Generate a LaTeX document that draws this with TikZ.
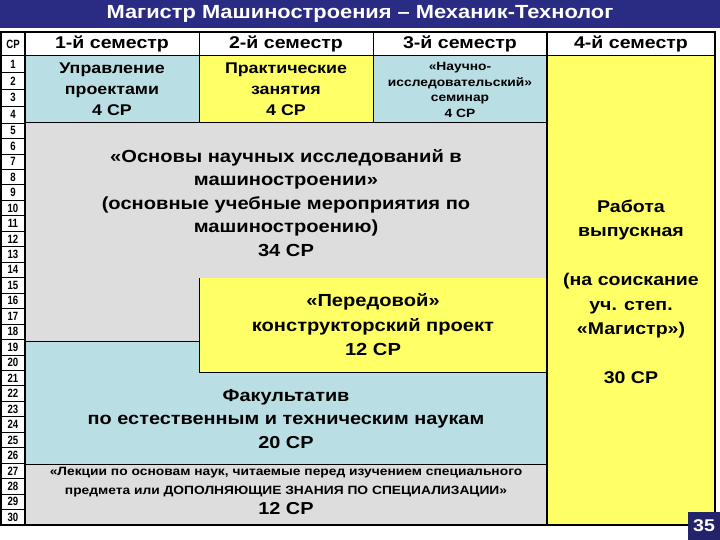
\documentclass[tikz,border=0pt]{standalone}
\usepackage{fontspec}
\setmainfont[FakeStretch=1.15]{Liberation Sans}
\newfontfamily\numfont[FakeStretch=0.8]{Liberation Sans}
\definecolor{titleblue}{RGB}{42,44,132}
\definecolor{paleblue}{RGB}{185,223,228}
\definecolor{palegrey}{RGB}{221,221,221}
\definecolor{paleyellow}{RGB}{255,255,102}

\begin{document}
\begin{tikzpicture}[x=1pt, y=-1pt,
    semhead/.style={font=\fontsize{17}{20}\selectfont\bfseries},
    blocktxt/.style={align=center, font=\fontsize{17.3}{23.5}\selectfont\bfseries},
    smalltxt/.style={align=center, font=\fontsize{12}{15.5}\selectfont\bfseries},
    rownum/.style={font=\numfont\fontsize{12}{13}\selectfont\bfseries, inner sep=0pt}]
    \useasboundingbox (0,0) rectangle (720,540);

    % title bar
    \fill[titleblue] (0,0) rectangle (720,28);
    \node[text=white, font=\fontsize{19}{21}\selectfont\bfseries] (title) at (360,14)
        {Магистр Машиностроения – Механик-Технолог};

    % coloured blocks
    \fill[white] (1,32) rectangle (715,56);
    \fill[paleblue] (25,56) rectangle (199,123);
    \fill[paleyellow] (199,56) rectangle (373,123);
    \fill[paleblue] (373,56) rectangle (547,123);
    \fill[paleyellow] (547,56) rectangle (715,525);
    \fill[palegrey] (25,123) rectangle (547,341);
    \fill[paleblue] (25,341) rectangle (547,464);
    \fill[paleyellow] (199,278) rectangle (547,372);
    \fill[palegrey] (25,464) rectangle (547,525);

    % grid lines
    \draw[line width=1.2pt] (25,32) -- (25,525);
    \draw[line width=1.2pt] (547,32) -- (547,525);
    \draw[line width=1pt] (199,32) -- (199,123) (373,32) -- (373,123);
    \draw[line width=1pt] (1,56) -- (715,56);
    \draw[line width=1pt] (25,123) -- (547,123);
    \draw[line width=1pt] (25,341) -- (199,341);
    \draw[line width=1pt] (199,278) -- (199,372) -- (547,372);
    \draw[line width=1pt] (25,464) -- (547,464);

    % row numbers
    \foreach \i in {1,...,4} {
        \node[rownum] (r\i) at (13,{56+(\i-0.5)*16.75}) {\i};
        \draw[line width=0.8pt] (1,{56+\i*16.75}) -- (25,{56+\i*16.75});
    }
    \foreach \i in {5,...,30} {
        \node[rownum] (r\i) at (13,{123+(\i-4.5)*15.46}) {\i};
        \draw[line width=0.8pt] (1,{123+(\i-4)*15.46}) -- (25,{123+(\i-4)*15.46});
    }

    % outer frame
    \draw[line width=1.5pt] (1,32) rectangle (715,525);
    \draw[line width=2.5pt] (0,525) -- (716,525);

    % header row
    \node[font=\numfont\fontsize{12}{13}\selectfont\bfseries] (cp) at (13,44) {СР};
    \node[semhead] (sem1) at (112,44) {1-й семестр};
    \node[semhead] (sem2) at (286,44) {2-й семестр};
    \node[semhead] (sem3) at (460,44) {3-й семестр};
    \node[semhead] (sem4) at (631,44) {4-й семестр};

    % block texts
    \node[blocktxt, font=\fontsize{15.5}{21}\selectfont\bfseries] (upr) at (112,89)
        {Управление\\проектами\\4 СР};
    \node[blocktxt, font=\fontsize{15.5}{21}\selectfont\bfseries] (prak) at (286,89)
        {Практические\\занятия\\4 СР};
    \node[smalltxt] (nir) at (460,90)
        {«Научно-\\исследовательский»\\семинар\\4 СР};
    \node[blocktxt, font=\fontsize{17.5}{23.5}\selectfont\bfseries] (osn) at (286,203)
        {«Основы научных исследований в\\машиностроении»\\(основные учебные мероприятия по\\машиностроению)\\34 СР};
    \node[blocktxt, font=\fontsize{17.5}{24.5}\selectfont\bfseries] (proekt) at (373,325)
        {«Передовой»\\конструкторский проект\\12 СР};
    \node[blocktxt] (fak) at (286,419)
        {Факультатив\\по естественным и техническим наукам\\20 СР};
    \node[smalltxt, font=\fontsize{12}{19}\selectfont\bfseries] (lek) at (286,482)
        {«Лекции по основам наук, читаемые перед изучением специального\\предмета или ДОПОЛНЯЮЩИЕ ЗНАНИЯ ПО СПЕЦИАЛИЗАЦИИ»};
    \node[blocktxt] (lekcp) at (286,509) {12 СР};
    \node[blocktxt, font=\fontsize{17}{24.5}\selectfont\bfseries] (rab) at (631,292)
        {Работа\\выпускная\\[24.5pt](на соискание\\уч. степ.\\«Магистр»)\\[24.5pt]30 СР};

    % page number
    \fill[titleblue!80!black] (688,512) rectangle (720,540);
    \node[text=white, font=\fontsize{17}{19}\selectfont\bfseries] (page) at (704,526) {35};
\end{tikzpicture}
\end{document}
